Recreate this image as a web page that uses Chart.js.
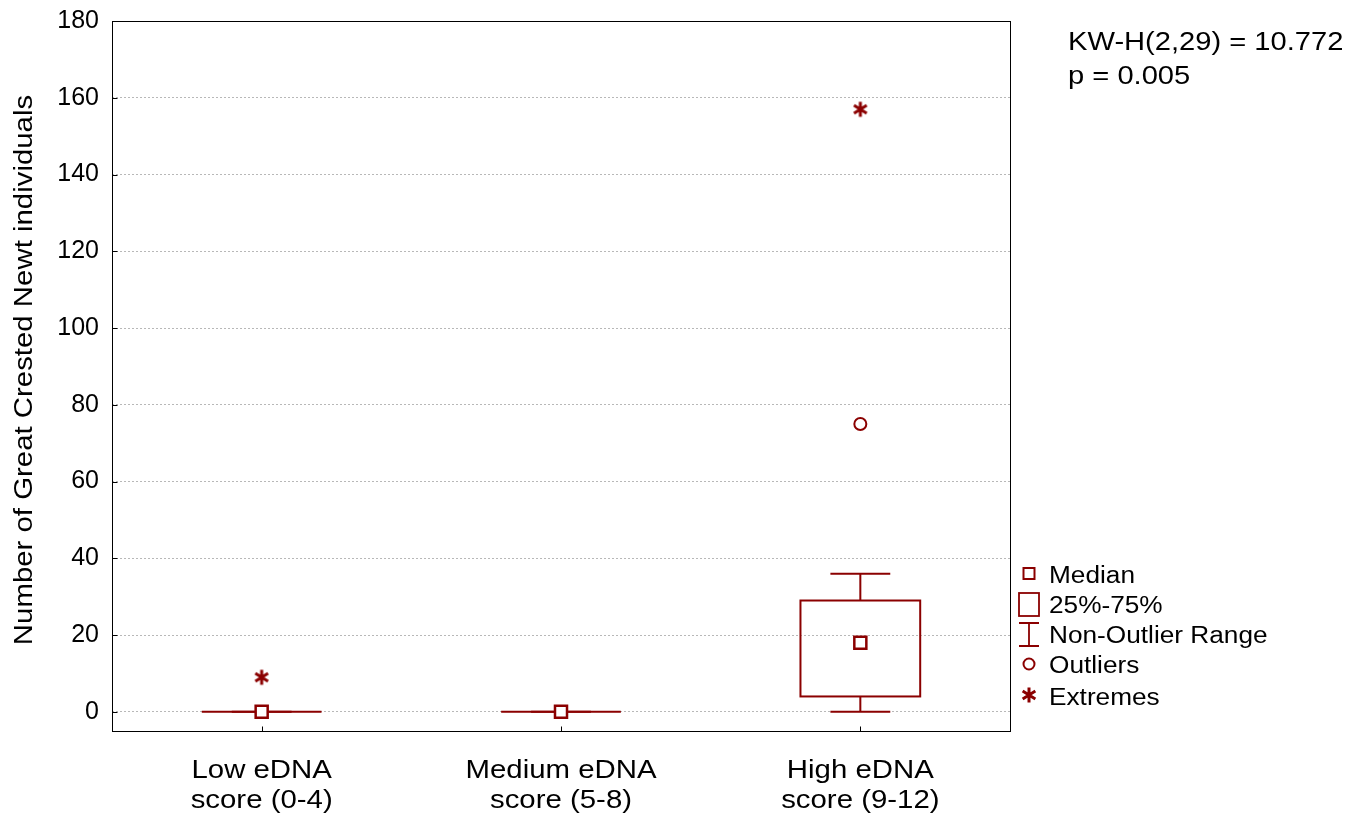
<!DOCTYPE html>
<html>
<head>
<meta charset="utf-8">
<script src="https://cdn.jsdelivr.net/npm/chart.js@4/dist/chart.umd.min.js"></script>
<style>
  html, body { margin: 0; padding: 0; background: #fff; }
  #wrap { width: 1363px; height: 816px; position: relative; }
</style>
</head>
<body>
<div id="wrap"><canvas id="chart" width="1363" height="816"></canvas></div>
<script>
const categories = [["Low eDNA", "score (0-4)"], ["Medium eDNA", "score (5-8)"], ["High eDNA", "score (9-12)"]];
const medians = [0, 0, 18];
const q1 = [0, 0, 4];
const q3 = [0, 0, 29];
const whiskerLow = [0, 0, 0];
const whiskerHigh = [0, 0, 36];
const outliers = [null, null, 75];
const extremes = [9, null, 157];
const yTicks = [0, 20, 40, 60, 80, 100, 120, 140, 160, 180];
const yTitle = "Number of Great Crested Newt individuals";
const statLines = ["KW-H(2,29) = 10.772", "p = 0.005"];

const RED = "#8b0000";
const FONT = "'Liberation Sans', Arial, sans-serif";
const WIDE = 1.13; // reference text is drawn a little wide

// asterisk marker for extremes
function makeStar(size) {
  const c = document.createElement("canvas");
  c.width = size; c.height = size;
  const g = c.getContext("2d");
  const r = size / 2 - 1.5, m = size / 2;
  g.strokeStyle = RED;
  g.lineWidth = 3;
  g.beginPath();
  [90, 32, 148].forEach(a => {
    const dx = Math.cos(a * Math.PI / 180) * r, dy = Math.sin(a * Math.PI / 180) * r;
    g.moveTo(m - dx, m - dy);
    g.lineTo(m + dx, m + dy);
  });
  g.stroke();
  return c;
}
const star = makeStar(18);

function wideText(ctx, t, x, y, sx, rot) {
  ctx.save();
  ctx.translate(x, y);
  if (rot) ctx.rotate(rot);
  ctx.scale(sx, 1);
  ctx.fillText(t, 0, 0);
  ctx.restore();
}

// boxes, whiskers, frame, labels and legend
const boxPlugin = {
  id: "boxes",
  beforeDatasetsDraw(chart) {
    const ctx = chart.ctx, x = chart.scales.x, y = chart.scales.y;
    const step = x.getPixelForValue(1) - x.getPixelForValue(0);
    ctx.save();
    ctx.strokeStyle = RED;
    ctx.lineWidth = 2;
    categories.forEach((c, i) => {
      const cx = x.getPixelForValue(i);
      const bw = step * 0.2, cw = step * 0.1;
      ctx.beginPath();
      ctx.moveTo(cx, y.getPixelForValue(q3[i])); ctx.lineTo(cx, y.getPixelForValue(whiskerHigh[i]));
      ctx.moveTo(cx, y.getPixelForValue(q1[i])); ctx.lineTo(cx, y.getPixelForValue(whiskerLow[i]));
      ctx.moveTo(cx - cw, y.getPixelForValue(whiskerHigh[i])); ctx.lineTo(cx + cw, y.getPixelForValue(whiskerHigh[i]));
      ctx.moveTo(cx - cw, y.getPixelForValue(whiskerLow[i])); ctx.lineTo(cx + cw, y.getPixelForValue(whiskerLow[i]));
      ctx.stroke();
      const top = y.getPixelForValue(q3[i]), bot = y.getPixelForValue(q1[i]);
      ctx.strokeRect(cx - bw, top, 2 * bw, bot - top);
    });
    ctx.restore();
  },
  afterDraw(chart) {
    const ctx = chart.ctx, a = chart.chartArea, x = chart.scales.x, y = chart.scales.y;
    ctx.save();
    // frame
    ctx.strokeStyle = "#000";
    ctx.lineWidth = 1;
    const L = Math.round(a.left) + 0.5, T = Math.round(a.top) + 0.5;
    const R = Math.round(a.right) + 0.5, B = Math.round(a.bottom) + 0.5;
    ctx.strokeRect(L, T, R - L, B - T);
    // inward tick marks
    ctx.beginPath();
    yTicks.forEach(v => {
      const py = Math.round(y.getPixelForValue(v)) + 0.5;
      ctx.moveTo(L, py); ctx.lineTo(L + 5, py);
    });
    categories.forEach((c, i) => {
      const px = Math.round(x.getPixelForValue(i)) + 0.5;
      ctx.moveTo(px, B); ctx.lineTo(px, B - 5);
    });
    ctx.stroke();

    ctx.fillStyle = "#000";
    ctx.textBaseline = "alphabetic";
    // category labels
    ctx.font = "26px " + FONT;
    ctx.textAlign = "center";
    categories.forEach((lines, i) => {
      const px = x.getPixelForValue(i);
      lines.forEach((t, j) => wideText(ctx, t, px, 778 + j * 30, WIDE));
    });
    // y title
    wideText(ctx, yTitle, 32, (a.top + a.bottom) / 2 - 6, WIDE, -Math.PI / 2);
    // stats text
    ctx.textAlign = "left";
    statLines.forEach((t, i) => wideText(ctx, t, 1068, 50 + i * 33.5, 1.12));
    // legend
    const lx = 1029, tx = 1049;
    ctx.font = "23px " + FONT;
    ctx.strokeStyle = RED;
    ctx.lineWidth = 2;
    ctx.strokeRect(lx - 5.5, 568, 11, 11);
    wideText(ctx, "Median", tx, 583, 1.14);
    ctx.lineWidth = 1.8;
    ctx.strokeRect(lx - 10, 593, 20, 23);
    wideText(ctx, "25%-75%", tx, 613, 1.14);
    ctx.beginPath();
    ctx.moveTo(lx - 10, 623); ctx.lineTo(lx + 10, 623);
    ctx.moveTo(lx, 623); ctx.lineTo(lx, 646);
    ctx.moveTo(lx - 10, 646); ctx.lineTo(lx + 10, 646);
    ctx.stroke();
    wideText(ctx, "Non-Outlier Range", tx, 643, 1.14);
    ctx.lineWidth = 2;
    ctx.beginPath();
    ctx.arc(lx, 664, 5.5, 0, Math.PI * 2);
    ctx.stroke();
    wideText(ctx, "Outliers", tx, 673, 1.14);
    ctx.drawImage(star, lx - 9, 686);
    wideText(ctx, "Extremes", tx, 705, 1.14);
    ctx.restore();
  }
};

new Chart(document.getElementById("chart"), {
  type: "line",
  data: {
    labels: categories,
    datasets: [
      { label: "Median", data: medians, showLine: false, pointStyle: "rect", pointRadius: 8.5,
        pointBorderWidth: 2.5, pointBorderColor: RED, pointBackgroundColor: "#fff" },
      { label: "Outliers", data: outliers, showLine: false, pointStyle: "circle", pointRadius: 6,
        pointBorderWidth: 2, pointBorderColor: RED, pointBackgroundColor: "#fff" },
      { label: "Extremes", data: extremes, showLine: false, pointStyle: star, pointRadius: 9 }
    ]
  },
  options: {
    responsive: false,
    animation: false,
    layout: { padding: { top: 21, right: 353, left: 0, bottom: 0 } },
    plugins: { legend: { display: false }, tooltip: { enabled: false } },
    scales: {
      x: {
        offset: true,
        grid: { display: false, drawTicks: false },
        border: { display: false },
        ticks: { display: false },
        afterFit: s => { s.height = 85; }
      },
      y: {
        min: -5, max: 180,
        afterBuildTicks: s => { s.ticks = yTicks.map(v => ({ value: v })); },
        grid: { color: "#b8b8b8", lineWidth: 1, drawTicks: false },
        border: { display: false, dash: [2, 2] },
        ticks: { color: "#000", font: { family: FONT, size: 25, lineHeight: 0.5 }, padding: 13 },
        afterFit: s => { s.width = 112; }
      }
    }
  },
  plugins: [boxPlugin]
});
</script>
</body>
</html>
